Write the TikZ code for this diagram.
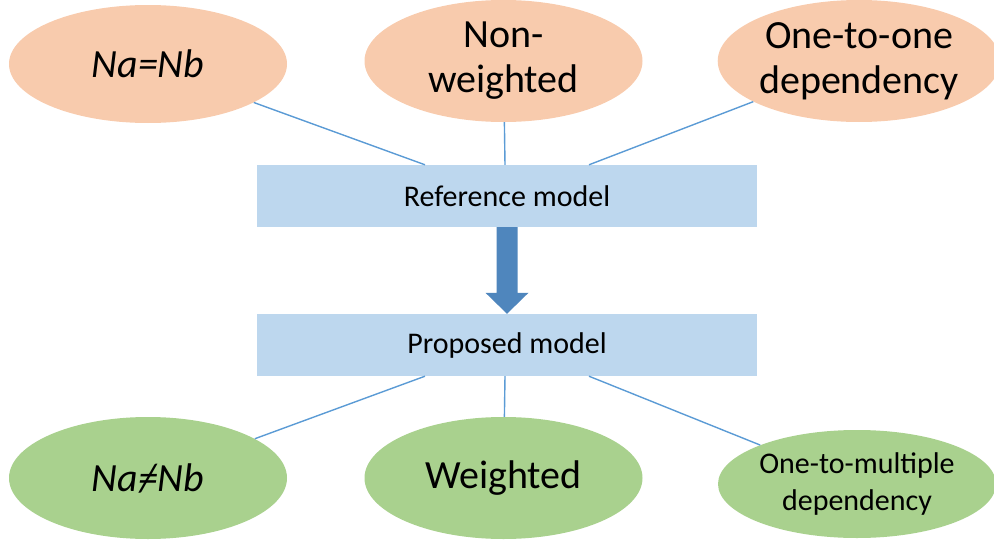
\documentclass[tikz,border=0pt]{standalone}
\usepackage{fontspec}
\setmainfont{Carlito}
\usetikzlibrary{shapes.geometric,calc}
\definecolor{peach}{HTML}{F8CBAD}
\definecolor{leaf}{HTML}{A9D18E}
\definecolor{boxblue}{HTML}{BDD7EE}
\definecolor{linkblue}{HTML}{5B9BD5}
\definecolor{arrowblue}{HTML}{4F86BD}
\newcommand{\myneq}{\ooalign{=\cr\hidewidth/\hidewidth\cr}}
\tikzset{
  oval/.style={ellipse, minimum width=278pt, minimum height=118pt, inner sep=0pt, align=center, text=black},
  topoval/.style={oval, fill=peach},
  botoval/.style={oval, fill=leaf},
  bigtext/.style={font=\fontsize{40}{45}\selectfont},
  smalltext/.style={font=\fontsize{30}{37}\selectfont},
  modelbox/.style={rectangle, fill=boxblue, minimum width=500pt, minimum height=62pt, inner sep=0pt, font=\fontsize{30}{36}\selectfont},
  link/.style={draw=linkblue, line width=1.4pt}
}
\begin{document}
\begin{tikzpicture}[x=1pt,y=-1pt]
\useasboundingbox (0,0) rectangle (994,546);
% top ellipses
\node[topoval, bigtext] (t1) at (148,64) {\textit{Na=Nb}};
\node[topoval, bigtext, minimum height=122pt] (t2) at (503.5,61) {Non-\\weighted};
\node[topoval, bigtext, minimum height=122pt] (t3) at (859,61) {One-to-one\\dependency};
% boxes
\node[modelbox] (ref) at (507,196) {Reference model};
\node[modelbox] (prop) at (507,345) {Proposed model};
% bottom ellipses
\node[botoval, bigtext, minimum height=122pt] (b1) at (148,478) {\textit{Na\myneq Nb}};
\node[botoval, bigtext, minimum height=122pt] (b2) at (503.5,478) {Weighted};
\node[botoval, smalltext, minimum height=108pt] (b3) at (857,484) {One-to-multiple\\dependency};
% attachment points
\coordinate (r1) at ($(ref.north)+(-82,0)$);
\coordinate (r2) at ($(ref.north)+(-2,0)$);
\coordinate (r3) at ($(ref.north)+(82,0)$);
\coordinate (p1) at ($(prop.south)+(-82,0)$);
\coordinate (p2) at ($(prop.south)+(-2,0)$);
\coordinate (p3) at ($(prop.south)+(82,0)$);
\draw[link] (r1) -- (t1);
\draw[link] (r2) -- (t2);
\draw[link] (r3) -- (t3);
\draw[link] (p1) -- (b1);
\draw[link] (p2) -- (b2);
\draw[link] (p3) -- (b3);
% block arrow
\coordinate (as) at (ref.south);
\coordinate (at) at (prop.north);
\fill[arrowblue] ($(as)+(-10.5,0)$) -- ($(as)+(10.5,0)$) -- ($(at)+(10.5,-21)$) -- ($(at)+(21.5,-21)$) -- (at) -- ($(at)+(-21.5,-21)$) -- ($(at)+(-10.5,-21)$) -- cycle;
\end{tikzpicture}
\end{document}
